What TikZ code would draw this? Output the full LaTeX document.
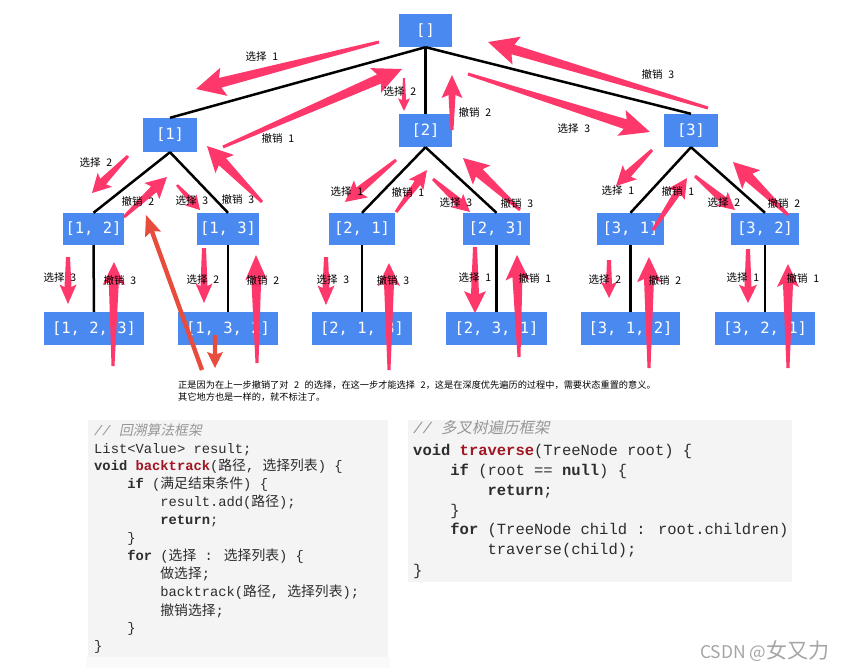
\documentclass[tikz,border=0pt]{standalone}
\usepackage{fontspec}
\usetikzlibrary{calc}
\newfontfamily\cjk{Noto Sans CJK SC}
\newfontfamily\cjksl[FakeSlant=0.2]{Noto Sans CJK SC}
\newfontfamily\nmono{DejaVu Sans Mono}
\newfontfamily\cmono{Liberation Mono}
\definecolor{nodeblue}{RGB}{74,137,240}
\definecolor{pk}{RGB}{255,56,108}
\definecolor{rd}{RGB}{232,76,61}
\definecolor{codebg}{RGB}{244,244,244}
\definecolor{codebg2}{RGB}{250,250,250}
\definecolor{codetx}{RGB}{45,45,45}
\definecolor{cmt}{RGB}{150,150,150}
\definecolor{kw}{RGB}{160,22,34}
\definecolor{wm}{RGB}{165,165,165}
% fat tapered arrow: colour, tail, tip, head length, head half width, shaft half width at head, tail half width
\newcommand\farr[7]{%
  \fill[#1] let \p1=#2, \p2=#3,
    \n1={atan2(\y2-\y1,\x2-\x1)}, \n2={veclen(\x2-\x1,\y2-\y1)} in
    [shift={(\p1)}, rotate=\n1]
    (0pt,-#7pt) -- ({\n2*1pt-#4pt},-#6pt) -- ({\n2*1pt-1.15*#4pt},-#5pt) -- ({\n2*1pt},0pt)
    -- ({\n2*1pt-1.15*#4pt},#5pt) -- ({\n2*1pt-#4pt},#6pt) -- (0pt,#7pt) -- cycle;}
\newcommand\lb[2]{#1\hspace{0.55em}#2}
\newcommand\zh[1]{{\cjk #1}}
\begin{document}
\begin{tikzpicture}[x=1pt,y=-1pt,
  box/.style={fill=nodeblue, text=white, font=\nmono\fontsize{15.5}{18}\selectfont, inner sep=0pt, minimum height=33pt},
  edge/.style={line width=2.5pt, black},
  lbl/.style={font=\cjk\fontsize{10.5}{12}\selectfont, inner sep=0pt},
  lcode/.style={anchor=base west, inner sep=0pt, text=codetx, font=\cmono\fontsize{13.8}{16}\selectfont},
  rcode/.style={anchor=base west, inner sep=0pt, text=codetx, font=\cmono\fontsize{15.5}{18}\selectfont},
  capt/.style={anchor=west, inner sep=0pt, font=\cjk\fontsize{9.2}{11}\selectfont}]
\useasboundingbox (0,0) rectangle (843,670);
% ---- tree nodes
\node[box, minimum width=53pt] (r) at (425.5,30.5) {[]};
\node[box, minimum width=54pt, minimum height=34pt] (n1) at (170,135) {[1]};
\node[box, minimum width=53pt] (n2) at (425.5,130.5) {[2]};
\node[box, minimum width=54pt] (n3) at (691,130.5) {[3]};
\node[box, minimum width=61pt, minimum height=32pt] (n12) at (93.5,229) {[1, 2]};
\node[box, minimum width=62pt, minimum height=32pt] (n13) at (228,229) {[1, 3]};
\node[box, minimum width=66pt, minimum height=32pt] (n21) at (362,229) {[2, 1]};
\node[box, minimum width=67pt, minimum height=32pt] (n23) at (496.5,229) {[2, 3]};
\node[box, minimum width=67pt, minimum height=32pt] (n31) at (630.5,229) {[3, 1]};
\node[box, minimum width=68pt, minimum height=32pt] (n32) at (765,229) {[3, 2]};
\node[box, minimum width=100pt] (n123) at (94,328.5) {[1, 2, 3]};
\node[box, minimum width=100pt] (n132) at (228,328.5) {[1, 3, 2]};
\node[box, minimum width=100pt] (n213) at (362,328.5) {[2, 1, 3]};
\node[box, minimum width=101pt] (n231) at (496.5,328.5) {[2, 3, 1]};
\node[box, minimum width=99pt] (n312) at (630.5,328.5) {[3, 1, 2]};
\node[box, minimum width=100pt] (n321) at (765,328.5) {[3, 2, 1]};
% ---- edges
\draw[edge] (r.south) -- (n1.north);
\draw[edge] (r.south) -- (n2.north);
\draw[edge] (r.south) -- (n3.north);
\draw[edge] (n1.south) -- (n12.north);
\draw[edge] (n1.south) -- (n13.north);
\draw[edge] (n2.south) -- (n21.north);
\draw[edge] (n2.south) -- (n23.north);
\draw[edge] (n3.south) -- (n31.north);
\draw[edge] (n3.south) -- (n32.north);
\draw[edge] (n12.south) -- (n123.north);
\draw[edge] (n13.south) -- (n132.north);
\draw[edge] (n21.south) -- (n213.north);
\draw[edge] (n23.south) -- (n231.north);
\draw[edge] (n31.south) -- (n312.north);
\draw[edge] (n32.south) -- (n321.north);
% ---- pink arrows, top level
\farr{pk}{(379,42)}{(196,89)}{25}{14.5}{5}{1.5}
\farr{pk}{(223,147)}{(402,69)}{25}{13.5}{5}{1.5}
\farr{pk}{(404,78)}{(404,111)}{11}{6}{2}{1}
\farr{pk}{(452,130)}{(452,75)}{20}{10.5}{3.5}{1.5}
\farr{pk}{(468,74)}{(650,132)}{26}{13.5}{5}{1.5}
\farr{pk}{(708,108)}{(488,42)}{26}{14.5}{5}{1.5}
% level 1 -> 2
\farr{pk}{(128,156)}{(92,193)}{16}{10}{4}{1.5}
\farr{pk}{(124,217)}{(167,177)}{18}{11}{4}{1.5}
\farr{pk}{(177,185)}{(200,210)}{12}{8}{3}{1.2}
\farr{pk}{(262,202)}{(207,146)}{22}{13}{5}{1.5}
\farr{pk}{(396,160)}{(345,202)}{18}{11}{4}{1.5}
\farr{pk}{(396,212)}{(427,170)}{16}{9}{3.5}{1.5}
\farr{pk}{(433,179)}{(470,212)}{15}{9}{4}{1.5}
\farr{pk}{(520,210)}{(463,158)}{22}{13}{5}{1.5}
\farr{pk}{(652,150)}{(616,186)}{17}{10}{4}{1.5}
\farr{pk}{(653,230)}{(687,178)}{17}{10}{3.5}{1.5}
\farr{pk}{(695,176)}{(735,210)}{15}{9}{4}{1.5}
\farr{pk}{(788,215)}{(733,162)}{22}{13}{5}{1.5}
% level 2 -> 3
\farr{pk}{(68,257)}{(68,304)}{17}{8.5}{3.5}{2}
\farr{pk}{(113,366)}{(114,262)}{20}{11}{5}{1.5}
\farr{pk}{(204,248)}{(204,303)}{17}{8.5}{3.5}{2}
\farr{pk}{(257,363)}{(256,255)}{22}{11}{5}{1.5}
\farr{pk}{(326,257)}{(326,305)}{17}{8.5}{3.5}{2}
\farr{pk}{(389,370)}{(389,263)}{20}{11}{5}{1.5}
\farr{pk}{(475,247)}{(475,313)}{19}{11}{4}{2}
\farr{pk}{(519,357)}{(517,255)}{22}{12}{5}{1.5}
\farr{pk}{(609,260)}{(609,298)}{14}{8}{3}{2}
\farr{pk}{(649,368)}{(649,257)}{22}{12}{5}{1.5}
\farr{pk}{(748,249)}{(748,303)}{16}{9}{3.5}{2}
\farr{pk}{(788,368)}{(788,264)}{20}{11}{5}{1.5}
% red arrows
\farr{rd}{(202,370)}{(146,215)}{18}{8.5}{2.2}{2.2}
\farr{rd}{(215,335)}{(215,368)}{14}{8}{2.2}{2.2}
% ---- labels
\node[lbl] (t1) at (262,57) {\lb{选择}{1}};
\node[lbl] (t2) at (400,92) {\lb{选择}{2}};
\node[lbl] (t3) at (278,138) {\lb{撤销}{1}};
\node[lbl] (t4) at (658,74) {\lb{撤销}{3}};
\node[lbl] (t5) at (475,112) {\lb{撤销}{2}};
\node[lbl] (t6) at (574,129) {\lb{选择}{3}};
\node[lbl] (t7) at (96,163) {\lb{选择}{2}};
\node[lbl] (t8) at (138,201) {\lb{撤销}{2}};
\node[lbl] (t9) at (192,201) {\lb{选择}{3}};
\node[lbl] (t10) at (238,199) {\lb{撤销}{3}};
\node[lbl] (t11) at (347,192) {\lb{选择}{1}};
\node[lbl] (t12) at (408,192) {\lb{撤销}{1}};
\node[lbl] (t13) at (456,203) {\lb{选择}{3}};
\node[lbl] (t14) at (517,203) {\lb{撤销}{3}};
\node[lbl] (t15) at (618,191) {\lb{选择}{1}};
\node[lbl] (t16) at (678,191) {\lb{撤销}{1}};
\node[lbl] (t17) at (724,203) {\lb{选择}{2}};
\node[lbl] (t18) at (784,203) {\lb{撤销}{2}};
\node[lbl] (t19) at (60,278) {\lb{选择}{3}};
\node[lbl] (t20) at (120,280) {\lb{撤销}{3}};
\node[lbl] (t21) at (203,280) {\lb{选择}{2}};
\node[lbl] (t22) at (263,280) {\lb{撤销}{2}};
\node[lbl] (t23) at (333,280) {\lb{选择}{3}};
\node[lbl] (t24) at (393,280) {\lb{撤销}{3}};
\node[lbl] (t25) at (475,278) {\lb{选择}{1}};
\node[lbl] (t26) at (535,278) {\lb{撤销}{1}};
\node[lbl] (t27) at (605,280) {\lb{选择}{2}};
\node[lbl] (t28) at (665,280) {\lb{撤销}{2}};
\node[lbl] (t29) at (743,278) {\lb{选择}{1}};
\node[lbl] (t30) at (803,278) {\lb{撤销}{1}};
% ---- caption
\node[capt] (cap1) at (178,385) {正是因为在上一步撤销了对\hspace{.6em}2\hspace{.6em}的选择，在这一步才能选择\hspace{.6em}2，这是在深度优先遍历的过程中，需要状态重置的意义。};
\node[capt] (cap2) at (178,397) {其它地方也是一样的，就不标注了。};
% ---- left code block
\fill[codebg2] (86,657) rectangle (390,668);
\fill[codebg] (88,420) rectangle (388,657);
\node[lcode, text=cmt] (l1) at (94,435.7) {{\itshape //} {\cjksl 回溯算法框架}};
\node[lcode] (l2) at (94,453.3) {List<Value> result;};
\node[lcode] (l3) at (94,470.7) {\textbf{void} {\bfseries\color{kw}backtrack}(\zh{路径}, \zh{选择列表}) \{};
\node[lcode] (l4) at (127.1,488.3) {\textbf{if} (\zh{满足结束条件}) \{};
\node[lcode] (l5) at (160.2,506.7) {result.add(\zh{路径});};
\node[lcode] (l6) at (160.2,524.3) {\textbf{return};};
\node[lcode] (l7) at (127.1,542.7) {\}};
\node[lcode] (l8) at (127.1,560.7) {\textbf{for} (\zh{选择} : \zh{选择列表}) \{};
\node[lcode] (l9) at (160.2,578.3) {\zh{做选择};};
\node[lcode] (l10) at (160.2,596.7) {backtrack(\zh{路径}, \zh{选择列表});};
\node[lcode] (l11) at (160.2,615) {\zh{撤销选择};};
\node[lcode] (l12) at (127.1,632.3) {\}};
\node[lcode] (l13) at (94,650) {\}};
% ---- right code block
\fill[codebg] (408,420) rectangle (792,582);
\node[rcode, text=cmt] (r1) at (413,433.8) {{\itshape //} {\cjksl 多叉树遍历框架}};
\node[rcode] (r2) at (413,455.5) {\textbf{void} {\bfseries\color{kw}traverse}(TreeNode root) \{};
\node[rcode] (r3) at (450.2,475.5) {\textbf{if} (root == \textbf{null}) \{};
\node[rcode] (r4) at (487.4,495.5) {\textbf{return};};
\node[rcode] (r5) at (450.2,515.5) {\}};
\node[rcode] (r6) at (450.2,534.8) {\textbf{for} (TreeNode child : root.children)};
\node[rcode] (r7) at (487.4,554.8) {traverse(child);};
\node[rcode] (r8) at (413,575.5) {\}};
% ---- watermark
\node[anchor=base west, font=\cjk\fontsize{17.5}{18}\selectfont, text=wm, inner sep=0pt] (wmk) at (700,658) {CSDN @{\fontsize{21}{22}\selectfont 女又力}};
\end{tikzpicture}
\end{document}
